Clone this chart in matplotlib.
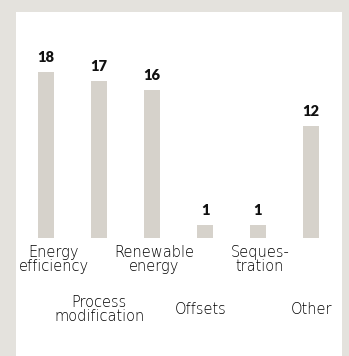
import matplotlib
matplotlib.use("Agg")
import matplotlib.pyplot as plt
from matplotlib import transforms

# Data
categories = ["Energy efficiency", "Process modification", "Renewable energy",
              "Offsets", "Sequestration", "Other"]
category_text = ["Energy\nefficiency", "Process\nmodification", "Renewable\nenergy",
                 "Offsets", "Seques-\ntration", "Other"]
counts = [18, 17, 16, 1, 1, 12]

W, H, DPI = 349, 356, 100
BG = "#e4e2dd"
BAR = "#d6d2cb"

fig = plt.figure(figsize=(W / DPI, H / DPI), dpi=DPI)
fig.patch.set_facecolor(BG)

# white panel as a background axes
panel = fig.add_axes([16 / W, 0, (342 - 16) / W, (H - 12) / H], zorder=0)
panel.set_facecolor("white")
panel.set_xticks([])
panel.set_yticks([])
for s in panel.spines.values():
    s.set_visible(False)

# title line sitting above the top edge
fig.text(18 / W, 1 + 3.0 / H, "Approaches to reducing emissions",
         fontsize=10.5, family="Lato", color="#555555", va="baseline", ha="left")

# chart axes placement (pixels)
ax_left, ax_right, ax_top, ax_bot = 16, 342, 12, 238
ax = fig.add_axes([ax_left / W, 1 - ax_bot / H, (ax_right - ax_left) / W,
                   (ax_bot - ax_top) / H], zorder=1)
ax.set_facecolor("none")
for s in ax.spines.values():
    s.set_visible(False)
ax.set_xticks([])
ax.set_yticks([])

step = 53.0
first_center = 46.0
ax.set_xlim((ax_left - first_center) / step, (ax_right - first_center) / step)
unit = 9.0
base_y = 234.0
ax.set_ylim(-(ax_bot - base_y) / unit, (base_y - ax_top) / unit)
y0 = ax.get_ylim()[0]

xs = list(range(len(counts)))
ax.bar(xs, [c - y0 for c in counts], bottom=y0, width=16 / step,
       color=BAR, edgecolor="none", zorder=2)

# value labels above bars
for x, c in zip(xs, counts):
    ax.annotate(str(c), xy=(x, c), xytext=(0, 10 * 0.72), textcoords="offset points",
                ha="center", va="baseline", fontsize=10.5, fontweight="heavy",
                family="Lato", color="#111111", annotation_clip=False)

# category labels, alternating rows
nudges = [8, 0, 2, -4, 2, 1]
xt = ax.get_xaxis_transform()
for i, (x, lab) in enumerate(zip(xs, category_text)):
    row_center = 259.5 if i % 2 == 0 else 309.5
    dy = -(row_center - ax_bot)
    tr = transforms.offset_copy(xt, fig=fig, x=nudges[i], y=dy, units="dots")
    ax.text(x, 0, lab, transform=tr, ha="center", va="center", clip_on=False,
            fontsize=10.5, family="DejaVu Sans", fontweight="light", color="#000000",
            linespacing=0.9, multialignment="center")

fig.savefig("out.png", dpi=DPI, facecolor=BG)
